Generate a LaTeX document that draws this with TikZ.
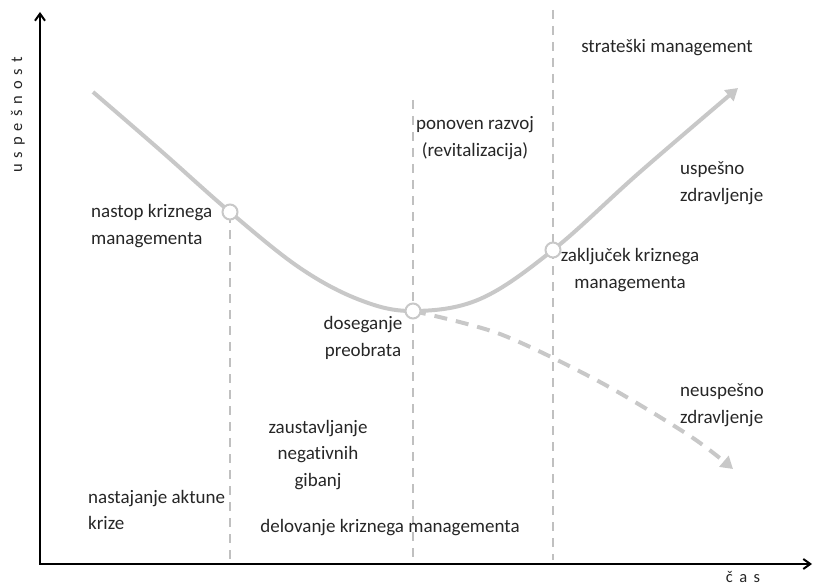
\documentclass[tikz,border=0pt]{standalone}
\usepackage{fontspec}
\setmainfont{Carlito}[Ligatures=NoCommon]
\usetikzlibrary{arrows.meta}
\definecolor{curvegray}{RGB}{200,200,200}
\definecolor{dashgray}{RGB}{192,192,192}
\tikzset{
  lbl/.style={font=\fontsize{19}{26.5}\selectfont, inner sep=0pt, text=black!85},
  axis/.style={line width=2.2pt, draw=black, -{Straight Barb[length=7pt,width=10pt,line width=2pt]}},
  guide/.style={draw=dashgray, line width=2pt, dash pattern=on 9pt off 7pt},
  ring/.style={circle, draw=curvegray, fill=white, line width=2pt, minimum size=15pt, inner sep=0pt},
  curve/.style={draw=curvegray, line width=4pt},
  axlbl/.style={font=\fontsize{16.5}{18}\selectfont, inner sep=0pt, text=black!85}
}
\begin{document}
\begin{tikzpicture}[x=1pt,y=-1pt]
\useasboundingbox (0,0) rectangle (813,588);
% coordinates
\coordinate (o) at (40,564);
\coordinate (ytop) at (40,12);
\coordinate (xend) at (812,564);
% guides
\coordinate (g1t) at (230,214); \coordinate (g1b) at (230,560);
\coordinate (g2t) at (413,100); \coordinate (g2b) at (413,560);
\coordinate (g3t) at (553,10);  \coordinate (g3b) at (553,560);
\draw[guide] (g1t) -- (g1b);
\draw[guide] (g2t) -- (g2b);
\draw[guide] (g3t) -- (g3b);
% dashed branch
\draw[curve, dash pattern=on 13pt off 9pt, -{Triangle[length=12pt,width=14pt]}]
  plot[smooth, tension=0.5] coordinates {(413,311) (500,334) (600,382) (690,436) (733,469)};
% main curve
\draw[curve, -{Triangle[length=12pt,width=14pt]}]
  plot[smooth, tension=0.6] coordinates {(93,92) (160,150) (230,212) (300,268) (360,300) (413,311) (480,299) (553,250) (640,172) (738,88)};
% markers
\node[ring] (m1) at (230,212) {};
\node[ring] (m2) at (413,311) {};
\node[ring] (m3) at (553,250) {};
% axes
\draw[axis, line cap=rect] (o) -- (ytop);
\draw[axis, line cap=rect] (o) -- (xend);
\node[axlbl, rotate=90] (ylab) at (18,115) {\spaceskip=6pt u s p e š n o s t};
\node[axlbl] (xlab) at (743,577) {\spaceskip=6.5pt č a s};
% labels
\node[lbl, align=left, anchor=west] (t1) at (91,226) {nastop kriznega\\managementa};
\node[lbl, align=center] (t2) at (363,338) {doseganje\\preobrata};
\node[lbl, align=center] (t3) at (475,138) {ponoven razvoj\\(revitalizacija)};
\node[lbl] (t4) at (667,48) {strateški management};
\node[lbl, align=left, anchor=west] (t5) at (680,183) {uspešno\\zdravljenje};
\node[lbl, align=center] (t6) at (630,270) {zaključek kriznega\\managementa};
\node[lbl, align=left, anchor=west] (t7) at (680,405) {neuspešno\\zdravljenje};
\node[lbl, align=center] (t8) at (318,455) {zaustavljanje\\negativnih\\gibanj};
\node[lbl, align=left, anchor=west] (t9) at (88,510) {nastajanje aktune\\krize};
\node[lbl] (t10) at (390,528) {delovanje kriznega managementa};
\end{tikzpicture}
\end{document}
